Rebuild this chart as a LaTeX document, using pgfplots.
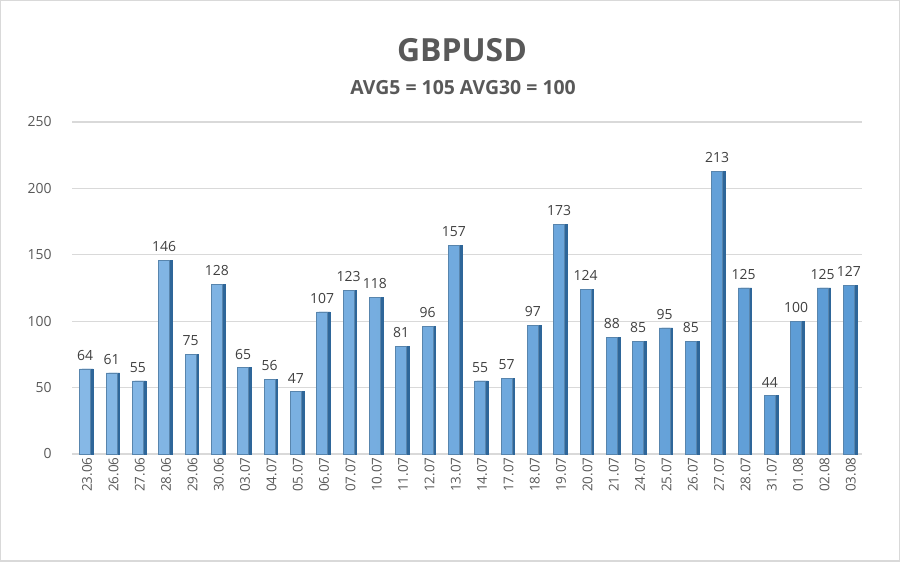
\documentclass[border=0pt]{standalone}
\usepackage{pgfplots}
\pgfplotsset{compat=1.18}
\usepackage{fontspec}
\setmainfont{Open Sans}
\definecolor{barfront}{HTML}{5B9BD5}
\definecolor{barlight}{HTML}{86B8E6}
\definecolor{barside}{HTML}{2E6699}
\definecolor{gridc}{HTML}{D9D9D9}
\definecolor{txt}{HTML}{595959}
\definecolor{ttl}{HTML}{595959}

\pgfplotstableread{
x v lab
0 64 23.06
1 61 26.06
2 55 27.06
3 146 28.06
4 75 29.06
5 128 30.06
6 65 03.07
7 56 04.07
8 47 05.07
9 107 06.07
10 123 07.07
11 118 10.07
12 81 11.07
13 96 12.07
14 157 13.07
15 55 14.07
16 57 17.07
17 97 18.07
18 173 19.07
19 124 20.07
20 88 21.07
21 85 24.07
22 95 25.07
23 85 26.07
24 213 27.07
25 125 28.07
26 44 31.07
27 100 01.08
28 125 02.08
29 127 03.08
}\gbp

\begin{document}
\begin{tikzpicture}[x=1bp,y=1bp]
\path[fill=white,draw=gridc,line width=1.5bp] (0.75,0.75) rectangle (899.25,561.25);
\node[font=\fontsize{32}{36}\selectfont\bfseries,text=ttl] at (462,512) {GBPUSD};
\node[font=\fontsize{19.5}{22}\selectfont\bfseries,text=ttl] at (463,474) {AVG5 = 105 AVG30 = 100};
\begin{axis}[
  at={(72bp,108bp)}, anchor=south west,
  scale only axis, width=790bp, height=332bp,
  xmin=-0.5, xmax=29.5, ymin=0, ymax=250,
  ytick={0,50,...,250},
  ymajorgrids, grid style={gridc, line width=1.2bp},
  axis line style={draw=none},
  major tick length=0pt,
  xtick=data,
  xticklabels from table={\gbp}{lab},
  xticklabel style={rotate=90, anchor=east, font=\fontsize{13.5}{15}\selectfont, text=txt, yshift=-2bp},
  yticklabel style={font=\fontsize{14}{16}\selectfont, text=txt, xshift=-17bp},
  /pgf/number format/assume math mode=true,
  ybar, bar width=11bp,
  clip=false,
]
\addplot[fill=barside, draw=barside, bar shift=2.5bp] table[x=x,y=v] {\gbp};
\addplot[left color=barlight, right color=barfront, draw=barside!80, line width=0.4bp, bar shift=0bp,
  nodes near coords, nodes near coords style={font=\fontsize{14}{16}\selectfont, text=black!75, yshift=5bp}]
  table[x=x,y=v] {\gbp};
\end{axis}
\end{tikzpicture}
\end{document}
